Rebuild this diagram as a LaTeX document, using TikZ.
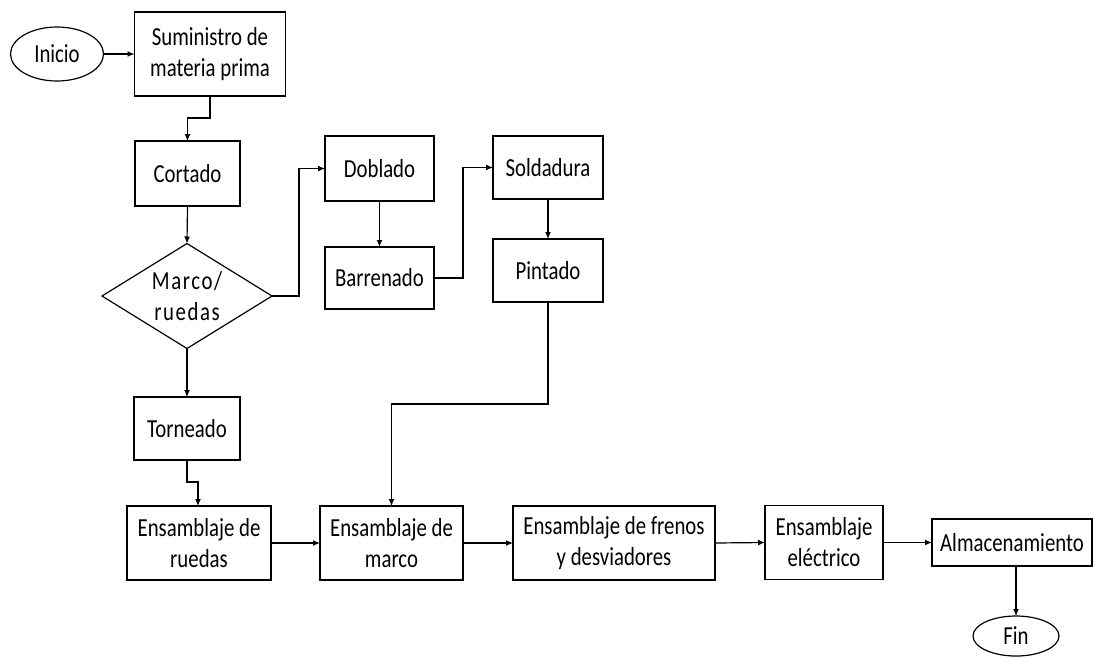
\documentclass[tikz,border=0pt]{standalone}
\usepackage{fontspec}
\setmainfont{Carlito}[FakeStretch=0.8]
\usetikzlibrary{shapes.geometric,arrows.meta}
\begin{document}
\begin{tikzpicture}[x=1pt,y=-1pt,
  every node/.style={font=\fontsize{26}{31}\selectfont, inner sep=0pt, outer sep=0pt},
  two/.style={align=center},
  box/.style={draw, line width=1.2pt, rectangle},
  term/.style={draw, line width=1.2pt, ellipse},
  dec/.style={draw, line width=1.2pt, diamond, shape aspect=1.6, align=center},
  conn/.style={line width=1.2pt, -{Latex[length=7pt,width=6pt]}}]
\useasboundingbox (0,0) rectangle (1094,657);
\node[term, minimum width=93, minimum height=54] (ini) at (57,54) {Inicio};
\node[box, two, minimum width=151, minimum height=84] (sum) at (210,54) {Suministro de\\materia prima};
\node[box, minimum width=105, minimum height=65] (cor) at (187.5,173.5) {Cortado};
\node[dec, minimum width=170, minimum height=105] (dia) at (187,296) {\addfontfeature{LetterSpace=6}Marco/\\\addfontfeature{LetterSpace=6}ruedas};
\node[box, minimum width=109, minimum height=65] (dob) at (379.5,168.5) {Doblado};
\node[box, minimum width=109, minimum height=62] (bar) at (379.5,278) {Barrenado};
\node[box, minimum width=110, minimum height=63] (sol) at (548,167.5) {Soldadura};
\node[box, minimum width=110, minimum height=63] (pin) at (548,270.5) {Pintado};
\node[box, minimum width=106, minimum height=63] (tor) at (187,428.5) {Torneado};
\node[box, two, minimum width=144, minimum height=74] (enr) at (199,543) {Ensamblaje de\\ruedas};
\node[box, two, minimum width=143, minimum height=74] (enm) at (391.5,543) {Ensamblaje de\\marco};
\node[box, two, minimum width=202, minimum height=74] (fre) at (614,543) {Ensamblaje de frenos\\y desviadores};
\node[box, two, minimum width=118, minimum height=74] (ele) at (824,542.5) {Ensamblaje\\eléctrico};
\node[box, minimum width=160, minimum height=47] (alm) at (1012,542.5) {Almacenamiento};
\node[term, minimum width=86, minimum height=40] (fin) at (1016,636) {Fin};

\draw[conn] (ini.east) -- (sum.west);
\draw[conn] (sum.south) -- ++(0,22) -| (cor.north);
\draw[conn] (cor.south) -- (dia.north);
\draw[conn] (dia.east) -- ++(27,0) |- (dob.west);
\draw[conn] (dob.south) -- (bar.north);
\draw[conn] (bar.east) -- ++(29,0) |- (sol.west);
\draw[conn] (sol.south) -- (pin.north);
\draw[conn] (pin.south) -- ++(0,102) -| (enm.north);
\draw[conn] (dia.south) -- (tor.north);
\draw[conn] (tor.south) -- ++(0,22) -| ([xshift=-1pt]enr.north);
\draw[conn] (enr.east) -- (enm.west);
\draw[conn] (enm.east) -- (fre.west);
\draw[conn] (fre.east) -- (ele.west);
\draw[conn] (ele.east) -- (alm.west);
\draw[conn] (alm.south -| fin.north) -- (fin.north);
\end{tikzpicture}
\end{document}
